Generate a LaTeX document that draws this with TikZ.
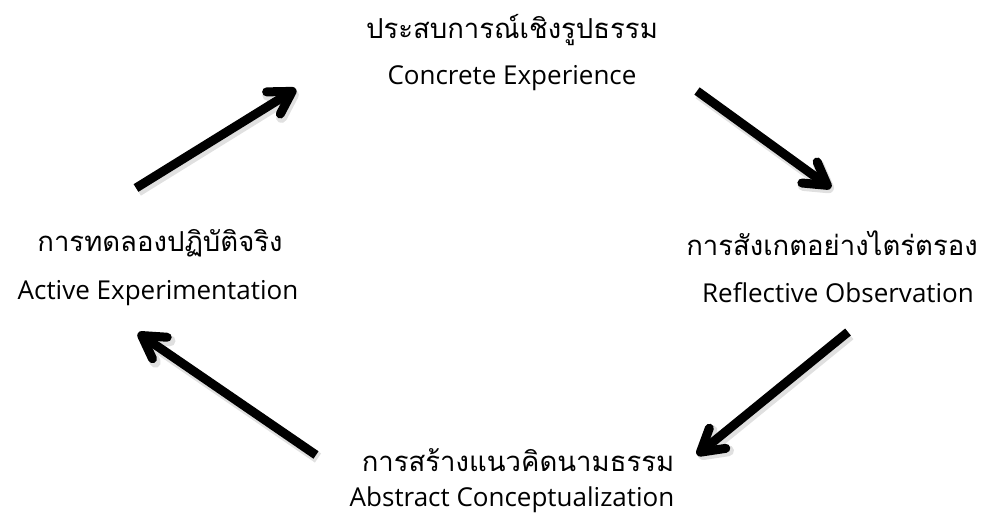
\documentclass[tikz,border=0pt]{standalone}
\usepackage{fontspec}
\setmainfont{Open Sans}
\newfontfamily\thaifont[Script=Thai]{Loma}
\usetikzlibrary{arrows.meta}
\tikzset{
  lbl/.style={align=center, inner sep=0pt, font=\fontsize{26}{30}\selectfont},
  tlbl/.style={align=center, inner sep=0pt, font=\thaifont\fontsize{27.5}{32}\selectfont},
  cyc/.style={line width=9pt, -{Straight Barb[length=22pt, width=26pt, line cap=round, line join=round]}, black},
  cycsh/.style={line width=11pt, black!12, -{Straight Barb[length=22pt, width=26pt, line cap=round, line join=round]}},
}
\begin{document}
\begin{tikzpicture}[x=1pt,y=-1pt]
\useasboundingbox (0,0) rectangle (990,521);
\node[tlbl] (cet) at (512,30) {ประสบการณ์เชิงรูปธรรม};
\node[lbl] (cee) at (512,78) {Concrete Experience};
\node[tlbl] (rot) at (832,243) {การสังเกตอย่างไตร่ตรอง};
\node[lbl] (roe) at (838,293) {Reflective Observation};
\node[tlbl] (act) at (518,460) {การสร้างแนวคิดนามธรรม};
\node[lbl] (ace) at (512,500) {Abstract Conceptualization};
\node[tlbl] (aet) at (160,243) {การทดลองปฏิบัติจริง};
\node[lbl] (aee) at (158,293) {Active Experimentation};
\coordinate (a1s) at (136,188); \coordinate (a1e) at (296,89);
\coordinate (a2s) at (697,91); \coordinate (a2e) at (831,188);
\coordinate (a3s) at (848,332); \coordinate (a3e) at (697,455);
\coordinate (a4s) at (316,455); \coordinate (a4e) at (138,333);
\foreach \s/\e in {a1s/a1e,a2s/a2e,a3s/a3e,a4s/a4e}{
  \draw[cycsh] ([shift={(2,3)}]\s) -- ([shift={(2,3)}]\e);
}
\draw[cyc] (a1s) -- (a1e);
\draw[cyc] (a2s) -- (a2e);
\draw[cyc] (a3s) -- (a3e);
\draw[cyc] (a4s) -- (a4e);
\end{tikzpicture}
\end{document}
